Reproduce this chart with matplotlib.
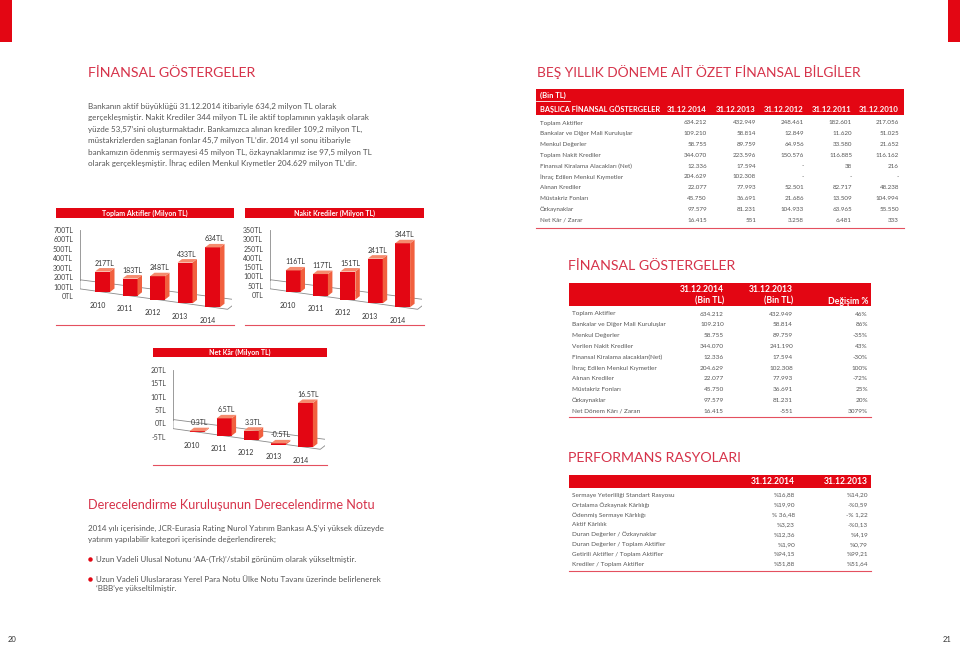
# %% Library
import matplotlib.pyplot as plt
from matplotlib.patches import Rectangle, Polygon
import numpy as np

plt.rcParams['font.family'] = ['Lato', 'DejaVu Sans']

# %% Data
years = ['2010', '2011', '2012', '2013', '2014']

toplam_aktifler = [217, 183, 248, 433, 634]
aktif_labels = ['217TL', '183TL', '248TL', '433TL', '634TL']
aktif_ticks = [0, 100, 200, 300, 400, 500, 600, 700]
aktif_tick_labels = ['0TL', '100TL', '200TL', '300TL', '400TL', '500TL', '600TL', '700TL']

nakit_krediler = [116, 117, 151, 241, 344]
kredi_labels = ['116TL', '117TL', '151TL', '241TL', '344TL']
kredi_ticks = [0, 50, 100, 150, 200, 250, 300, 350]
kredi_tick_labels = ['0TL', '50TL', '100TL', '150TL', '400TL', '250TL', '300TL', '350TL']

net_kar = [0.3, 6.5, 3.3, -0.5, 16.5]
net_labels = ['0.3TL', '6.5TL', '3.3TL', '-0.5TL', '16.5TL']
net_ticks = [-5, 0, 5, 10, 15, 20]
net_tick_labels = ['-5TL', '0TL', '5TL', '10TL', '15TL', '20TL']

ozet_dates = ['31.12.2014', '31.12.2013', '31.12.2012', '31.12.2011', '31.12.2010']
ozet_rows = ['Toplam Aktifler', 'Bankalar ve Diğer Mali Kuruluşlar', 'Menkul Değerler',
             'Toplam Nakit Krediler', 'Finansal Kiralama Alacakları (Net)',
             'İhraç Edilen Menkul Kıymetler', 'Alınan Krediler', 'Müstakriz Fonları',
             'Özkaynaklar', 'Net Kâr / Zarar']
ozet_2014 = ['634.212', '109.210', '58.755', '344.070', '12.336', '204.629', '22.077', '45.750', '97.579', '16.415']
ozet_2013 = ['432.949', '58.814', '89.759', '223.596', '17.594', '102.308', '77.993', '36.691', '81.231', '551']
ozet_2012 = ['248.461', '12.849', '64.956', '150.576', '-', '-', '52.501', '21.686', '104.933', '3.258']
ozet_2011 = ['182.601', '11.620', '33.580', '116.885', '38', '-', '82.717', '13.509', '63.965', '6.481']
ozet_2010 = ['217.056', '51.025', '21.652', '116.162', '216', '-', '48.238', '104.994', '55.550', '333']

gosterge_rows = ['Toplam Aktifler', 'Bankalar ve Diğer Mali Kuruluşlar', 'Menkul Değerler',
                 'Verilen Nakit Krediler', 'Finansal Kiralama alacakları(Net)',
                 'İhraç Edilen Menkul Kıymetler', 'Alınan Krediler', 'Müstakriz Fonları',
                 'Özkaynaklar', 'Net Dönem Kârı / Zararı']
gosterge_2014 = ['634.212', '109.210', '58.755', '344.070', '12.336', '204.629', '22.077', '45.750', '97.579', '16.415']
gosterge_2013 = ['432.949', '58.814', '89.759', '241.190', '17.594', '102.308', '77.993', '36.691', '81.231', '-551']
gosterge_degisim = ['46%', '86%', '-35%', '43%', '-30%', '100%', '-72%', '25%', '20%', '3079%']

rasyo_rows = ['Sermaye Yeterliliği Standart Rasyosu', 'Ortalama Özkaynak Kârlılığı',
              'Ödenmiş Sermaye Kârlılığı', 'Aktif Kârlılık', 'Duran Değerler / Özkaynaklar',
              'Duran Değerler / Toplam Aktifler', 'Getirili Aktifler / Toplam Aktifler',
              'Krediler / Toplam Aktifler']
rasyo_2014 = ['%16,88', '%19,90', '% 36,48', '%3,23', '%12,36', '%1,90', '%94,15', '%51,88']
rasyo_2013 = ['%14,20', '-%0,59', '-% 1,22', '-%0,13', '%4,19', '%0,79', '%99,21', '%51,64']

intro_lines = [
    'Bankanın aktif büyüklüğü 31.12.2014 itibariyle 634,2 milyon TL olarak',
    'gerçekleşmiştir. Nakit Krediler 344 milyon TL ile aktif toplamının yaklaşık olarak',
    'yüzde 53,57’sini oluşturmaktadır. Bankamızca alınan krediler 109,2 milyon TL,',
    'müstakrizlerden sağlanan fonlar 45,7 milyon TL’dir. 2014 yıl sonu itibariyle',
    'bankamızın ödenmiş sermayesi 45 milyon TL, özkaynaklarımız ise 97,5 milyon TL',
    'olarak gerçekleşmiştir. İhraç edilen Menkul Kıymetler 204.629 milyon TL’dir.',
]
rating_lines = [
    '2014 yılı içerisinde, JCR-Eurasia Rating Nurol Yatırım Bankası A.Ş’yi yüksek düzeyde',
    'yatırım yapılabilir kategori içerisinde değerlendirerek;',
]
bullet_1 = ['Uzun Vadeli Ulusal Notunu ‘AA-(Trk)’/stabil görünüm olarak yükseltmiştir.']
bullet_2 = ['Uzun Vadeli Uluslararası Yerel Para Notu Ülke Notu Tavanı üzerinde belirlenerek',
            '‘BBB’ye yükseltilmiştir.']

# %% Style
W, H = 960, 647
RED = '#e30613'
SIDE = '#f1603f'
TOP = '#f58b6e'
TITLE = '#d6334a'
RULE = '#e4505f'
TXT = '#555555'

fig = plt.figure(figsize=(W / 100, H / 100), dpi=100)
bg = fig.add_axes([0, 0, 1, 1])
bg.set_xlim(0, W)
bg.set_ylim(H, 0)
bg.axis('off')


def band(x0, x1, y0, y1, color=RED):
    bg.add_patch(Rectangle((x0, y0), x1 - x0, y1 - y0, color=color, lw=0))


def rule(x0, x1, y):
    bg.plot([x0, x1], [y, y], color=RULE, lw=0.8)


def title(x, y, s, size=10.2):
    bg.text(x, y, s, color=TITLE, fontsize=size, va='center', ha='left')


# page edge marks
band(0, 12, 0, 42)
band(948, 960, 0, 42)
bg.text(12, 640, '20', fontsize=5.5, color='#333333', ha='center', va='center')
bg.text(947, 640, '21', fontsize=5.5, color='#333333', ha='center', va='center')

# %% Left text
title(88, 73, 'FİNANSAL GÖSTERGELER')
for i, line in enumerate(intro_lines):
    bg.text(88, 106 + 11.5 * i, line, fontsize=5.8, color=TXT, va='center')

title(88, 505, 'Derecelendirme Kuruluşunun Derecelendirme Notu', size=9.1)
for i, line in enumerate(rating_lines):
    bg.text(88, 528 + 11 * i, line, fontsize=5.8, color=TXT, va='center')
for y0, lines in [(559, bullet_1), (579, bullet_2)]:
    bg.plot(90, y0, 'o', color=RED, ms=2.2)
    for i, line in enumerate(lines):
        bg.text(96, y0 + 10 * i, line, fontsize=5.8, color=TXT, va='center')


# %% 3D-ish bar charts
def bar_chart(box, zero_px, ppu, c0, step, b0, values, val_labels, ticks, tick_labels, head):
    left, top, right, bottom = box
    ax = fig.add_axes([left / W, 1 - bottom / H, (right - left) / W, (bottom - top) / H])
    ax.set_xlim(0, (right - left) / step)
    ax.set_ylim((zero_px - bottom) / ppu, (zero_px - top) / ppu)
    ax.patch.set_alpha(0)
    for s in ['top', 'right', 'bottom']:
        ax.spines[s].set_visible(False)
    ax.set_xticks([])
    ax.set_yticks(ticks, tick_labels)
    ax.tick_params(axis='y', length=0, pad=5, labelsize=5, labelcolor='#444444')

    n = len(values)
    xc = (c0 - left) / step + np.arange(n)
    w = 15 / step
    ddx, ddy = 4.5 / step, 3.5 / ppu
    slope = 3.8 / ppu
    bases = (zero_px - b0) / ppu - slope * np.arange(n)

    # floor
    f0 = bases[0] + slope * xc[0]
    xe = xc[-1] + 0.55
    fe = bases[0] - slope * (xe - xc[0])
    k = 2.6
    floor = [(0, f0), (xe, fe), (xe + k * ddx, fe + k * ddy), (0, f0 + k * ddy)]
    ax.add_patch(Polygon(floor, closed=True, fc='white', ec='#8a8a8a', lw=0.6, zorder=1))
    ax.spines['left'].set_color('#8a8a8a')
    ax.spines['left'].set_linewidth(0.6)
    ax.spines['left'].set_bounds(f0 + k * ddy, ticks[-1])

    ax.bar(xc, values, width=w, bottom=bases, color=RED, lw=0, zorder=3)
    for x, b, v, lab, yr in zip(xc, bases, values, val_labels, years):
        xl, xr = x - w / 2, x + w / 2
        t = b + max(v, 0)
        lo = b + min(v, 0)
        ax.add_patch(Polygon([(xr, lo), (xr + ddx, lo + ddy), (xr + ddx, t + ddy), (xr, t)],
                             closed=True, fc=SIDE, lw=0, zorder=3))
        ax.add_patch(Polygon([(xl, t), (xl + ddx, t + ddy), (xr + ddx, t + ddy), (xr, t)],
                             closed=True, fc=TOP, lw=0, zorder=3))
        ax.text(x + ddx / 2, t + ddy + 5 / ppu, lab, fontsize=5, color='#333333',
                ha='center', va='center')
        ax.text(x - 5 / step, b - 13 / ppu, yr, fontsize=5, color='#333333',
                ha='center', va='center')

    hx0, hx1, hy0, hy1, htxt = head
    band(hx0, hx1, hy0, hy1)
    bg.text((hx0 + hx1) / 2, (hy0 + hy1) / 2, htxt, color='white', fontsize=5,
            fontweight='bold', ha='center', va='center')
    rule(hx0, hx1, bottom - 1)
    return ax


bar_chart((80, 222, 232, 326), 296, 66 / 700, 102.5, 27.5, 292,
          toplam_aktifler, aktif_labels, aktif_ticks, aktif_tick_labels,
          (56, 234, 208, 218, 'Toplam Aktifler (Milyon TL)'))
bar_chart((270, 222, 422, 326), 295, 65 / 350, 293, 27.4, 292,
          nakit_krediler, kredi_labels, kredi_ticks, kredi_tick_labels,
          (245, 424, 208, 218, 'Nakit Krediler (Milyon TL)'))
bar_chart((173, 362, 325, 466), 423.4, 67 / 25, 197, 27.1, 432,
          net_kar, net_labels, net_ticks, net_tick_labels,
          (153, 327, 348, 357, 'Net Kâr (Milyon TL)'))

# %% Right: five-year summary table
title(537, 72, 'BEŞ YILLIK DÖNEME AİT ÖZET FİNANSAL BİLGİLER', size=9.9)
band(536, 904, 89, 115)
bg.plot([536, 570], [101, 101], color='white', lw=0.6)
bg.text(540, 95, '(Bin TL)', color='white', fontsize=5.5, fontweight='bold', va='center')
bg.text(540, 109, 'BAŞLICA FİNANSAL GÖSTERGELER', color='white', fontsize=5.3,
        fontweight='bold', va='center')
ozet_cols = [707, 756, 804, 852, 899]
for cx, d in zip(ozet_cols, ozet_dates):
    bg.text(cx, 109, d, color='white', fontsize=5.6, fontweight='bold', ha='right', va='center')
for i, lab in enumerate(ozet_rows):
    y = 123 + 10.8 * i
    bg.text(540, y, lab, fontsize=4.5, color=TXT, va='center')
    for cx, col in zip(ozet_cols, [ozet_2014, ozet_2013, ozet_2012, ozet_2011, ozet_2010]):
        bg.text(cx, y, col[i], fontsize=4.5, color=TXT, ha='right', va='center')
rule(536, 904, 228)

# %% Right: financial indicators
title(568, 266, 'FİNANSAL GÖSTERGELER')
band(569, 871, 283, 306)
for cx, d in zip([724, 793], ['31.12.2014', '31.12.2013']):
    bg.text(cx, 290, d, color='white', fontsize=6.2, fontweight='bold', ha='right', va='center')
    bg.text(cx, 301, '(Bin TL)', color='white', fontsize=6.2, fontweight='bold', ha='right', va='center')
bg.text(868, 301, 'Değişim %', color='white', fontsize=6.2, fontweight='bold', ha='right', va='center')
for i, lab in enumerate(gosterge_rows):
    y = 314 + 10.8 * i
    bg.text(572, y, lab, fontsize=4.6, color=TXT, va='center')
    for cx, col in zip([724, 793, 868], [gosterge_2014, gosterge_2013, gosterge_degisim]):
        bg.text(cx, y, col[i], fontsize=4.6, color=TXT, ha='right', va='center')
rule(569, 871, 417)

# %% Right: performance ratios
title(568, 458, 'PERFORMANS RASYOLARI')
band(569, 871, 475, 488)
for cx, d in zip([795, 868], ['31.12.2014', '31.12.2013']):
    bg.text(cx, 481.5, d, color='white', fontsize=6.2, fontweight='bold', ha='right', va='center')
for i, lab in enumerate(rasyo_rows):
    y = 495 + 9.86 * i
    bg.text(572, y, lab, fontsize=4.6, color=TXT, va='center')
    for cx, col in zip([795, 868], [rasyo_2014, rasyo_2013]):
        bg.text(cx, y, col[i], fontsize=4.6, color=TXT, ha='right', va='center')
rule(569, 871, 571)

fig.savefig('out.png', dpi=100)
